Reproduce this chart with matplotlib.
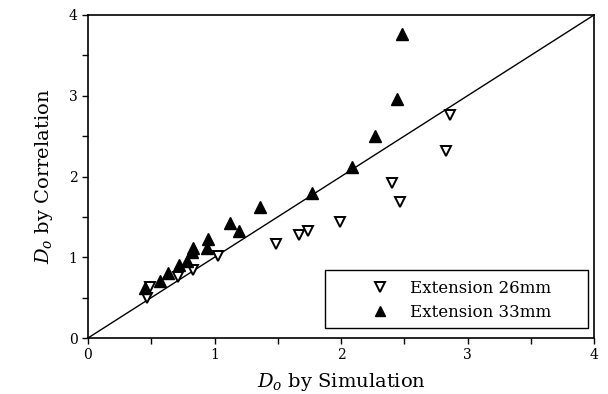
import matplotlib
matplotlib.use("Agg")
import matplotlib.pyplot as plt
from matplotlib.patches import Rectangle

plt.rcParams['font.family'] = ['DejaVu Serif']
plt.rcParams['mathtext.fontset'] = 'custom'
plt.rcParams['mathtext.it'] = 'DejaVu Serif:italic'
plt.rcParams['mathtext.rm'] = 'DejaVu Serif'

# Extension 26mm (open down-triangles)
x26 = [0.47, 0.49, 0.71, 0.83, 1.03, 1.49, 1.67, 1.74, 1.99, 2.40, 2.47, 2.83, 2.86]
y26 = [0.50, 0.63, 0.75, 0.84, 1.01, 1.17, 1.28, 1.32, 1.44, 1.92, 1.68, 2.31, 2.76]
# Extension 33mm (filled up-triangles)
x33 = [0.45, 0.57, 0.63, 0.72, 0.78, 0.82, 0.83, 0.94, 0.95, 1.12, 1.19, 1.36, 1.77, 2.09, 2.27, 2.44, 2.48]
y33 = [0.62, 0.70, 0.80, 0.91, 0.95, 1.07, 1.11, 1.11, 1.23, 1.42, 1.32, 1.62, 1.80, 2.12, 2.50, 2.96, 3.77]

diag = [0, 4]
major_ticks = [0, 1, 2, 3, 4]
minor_ticks = [0.5, 1.5, 2.5, 3.5]

W, H = 608, 394
fig = plt.figure(figsize=(W/100, H/100), dpi=100)
ax = fig.add_axes([88/W, 1 - 338/H, (594-88)/W, (338-15)/H])

ax.plot(diag, diag, color='black', lw=1.0, zorder=1)
ax.plot(x26, y26, linestyle='none', marker='v', markersize=7.5,
        markerfacecolor='white', markeredgecolor='black', markeredgewidth=1.4,
        label='Extension 26mm', zorder=3)
ax.plot(x33, y33, linestyle='none', marker='^', markersize=8,
        markerfacecolor='black', markeredgecolor='black',
        label='Extension 33mm', zorder=3)

ax.set_xlim(0, 4)
ax.set_ylim(0, 4)
ax.set_xticks(major_ticks)
ax.set_yticks(major_ticks)
ax.set_xticks(minor_ticks, minor=True)
ax.set_yticks(minor_ticks, minor=True)
ax.tick_params(which='both', direction='out', length=4, width=1, labelsize=10)
for s in ax.spines.values():
    s.set_linewidth(1.2)

ax.set_xlabel(r'$D_o$ by Simulation', fontsize=14, labelpad=6)
ax.set_ylabel(r'$D_o$ by Correlation', fontsize=14, labelpad=10)

# legend frame
ax.add_patch(Rectangle((325/W, 1 - 328/H), (588-325)/W, (328-270)/H,
                       transform=fig.transFigure, facecolor='white',
                       edgecolor='black', lw=1.0, zorder=4, clip_on=False))

leg = ax.legend(loc='upper left', bbox_to_anchor=(363/W, 1 - 280/H),
                bbox_transform=fig.transFigure, fontsize=12, frameon=False,
                borderpad=0, handletextpad=0.8, labelspacing=0.4,
                handlelength=2.0, borderaxespad=0, markerscale=0.9)
leg.set_zorder(5)

fig.savefig('out.png', dpi=100)
